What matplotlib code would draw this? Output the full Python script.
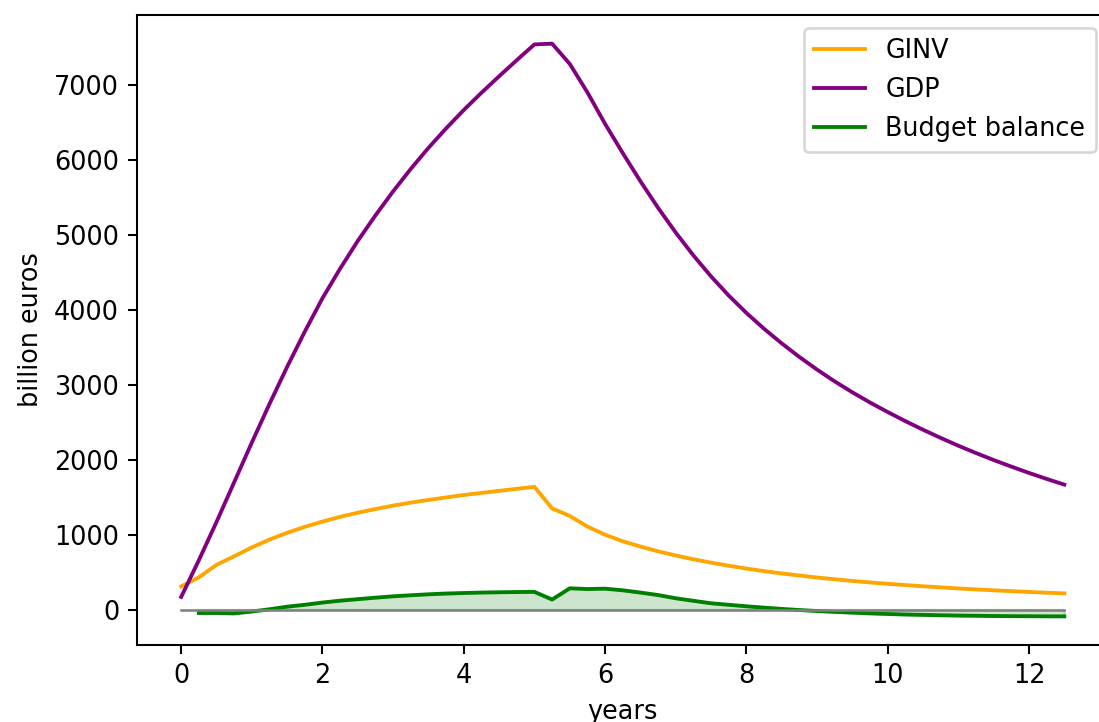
import matplotlib
matplotlib.use("Agg")
import matplotlib.pyplot as plt
import numpy as np

# quarterly time steps
years = np.arange(51) * 0.25

gdp = [170, 660, 1170, 1700, 2230, 2745, 3240, 3710, 4155, 4550, 4920,
       5260, 5580, 5880, 6160, 6420, 6665, 6895, 7115, 7330, 7540, 7550,
       7280, 6900, 6480, 6090, 5715, 5360, 5030, 4725, 4445, 4190, 3958,
       3747, 3552, 3371, 3202, 3045, 2899, 2763, 2636, 2515, 2400, 2291,
       2187, 2089, 1996, 1908, 1824, 1744, 1668]

ginv = [310, 430, 598, 712, 830, 935, 1025, 1105, 1175, 1238, 1293,
        1342, 1388, 1428, 1463, 1497, 1529, 1557, 1585, 1612, 1638, 1350,
        1250, 1108, 1000, 912, 842, 778, 722, 672, 627, 586, 548,
        514, 483, 455, 429, 405, 383, 363, 345, 328, 312, 297,
        283, 270, 258, 247, 236, 226, 217]

# budget balance starts one quarter later
budget_years = years[1:]
budget = [-45, -45, -50, -25, 5, 40, 65, 95, 120, 140,
          160, 178, 192, 205, 215, 222, 228, 232, 235, 237, 135,
          285, 275, 280, 258, 228, 195, 152, 118, 85, 65, 45,
          27, 10, -5, -18, -30, -40, -50, -58, -65, -70, -75,
          -79, -82, -85, -87, -88, -89, -90]

fig = plt.figure(figsize=(1099 / 184, 722 / 184), dpi=184)
ax = fig.add_axes([0.1247, 0.1066, 0.8839, 0.8726])

ax.plot(years, ginv, color="orange", label="GINV")
ax.plot(years, gdp, color="purple", label="GDP")
ax.plot(budget_years, budget, color="green", label="Budget balance")
ax.fill_between(budget_years, budget, 0, color="green", alpha=0.2)
ax.plot([years[0], years[-1]], [0, 0], color="gray", lw=1)

ax.set_xlabel("years")
ax.set_ylabel("billion euros")
ax.legend(loc="upper right")

fig.savefig("out.png", dpi=184)
